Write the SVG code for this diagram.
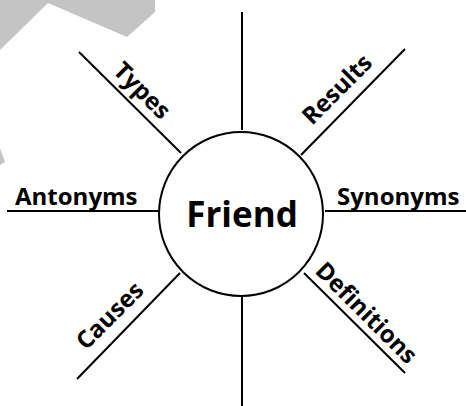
<svg xmlns="http://www.w3.org/2000/svg" width="466" height="406" viewBox="0 0 466 406">
<style>
.ln{stroke:#000;stroke-width:2;fill:none;stroke-linecap:butt}
.lb{font-family:"Open Sans","DejaVu Sans",sans-serif;font-weight:700;font-size:24px;fill:#000}
.ttl{font-family:"Open Sans","DejaVu Sans",sans-serif;font-weight:700;font-size:35px;fill:#000}
.bg{fill:#c4c4c4}
</style>
<rect width="466" height="406" fill="#fff"/>
<g id="background">
<polygon class="bg" points="0,0 155,0 155,12 127,37 48,3 0,50"/>
<polygon class="bg" points="0,148 5,162 0,165"/>
</g>
<g id="connectors">
<line class="ln" x1="242" y1="12" x2="242" y2="130"/>
<line class="ln" x1="242" y1="296" x2="242" y2="406"/>
<line class="ln" x1="7" y1="211" x2="159" y2="211"/>
<line class="ln" x1="325" y1="211" x2="466" y2="211"/>
<line class="ln" x1="79" y1="52" x2="181" y2="153"/>
<line class="ln" x1="405" y1="49" x2="301" y2="155"/>
<line class="ln" x1="180" y1="273" x2="77" y2="379"/>
<line class="ln" x1="304" y1="273" x2="405" y2="373"/>
</g>
<g id="node-friend">
<circle cx="241" cy="214" r="82" fill="#fff" stroke="#000" stroke-width="2"/>
<text class="ttl" x="242" y="227" text-anchor="middle">Friend</text>
</g>
<g id="node-antonyms"><text class="lb" x="15" y="205">Antonyms</text></g>
<g id="node-synonyms"><text class="lb" x="337" y="205">Synonyms</text></g>
<g id="node-types"><text class="lb" transform="translate(112,72) rotate(45)">Types</text></g>
<g id="node-results"><text class="lb" transform="translate(312,126) rotate(-45)">Results</text></g>
<g id="node-causes"><text class="lb" transform="translate(86,351) rotate(-45)">Causes</text></g>
<g id="node-definitions"><text class="lb" transform="translate(314,272) rotate(45)">Definitions</text></g>
</svg>
